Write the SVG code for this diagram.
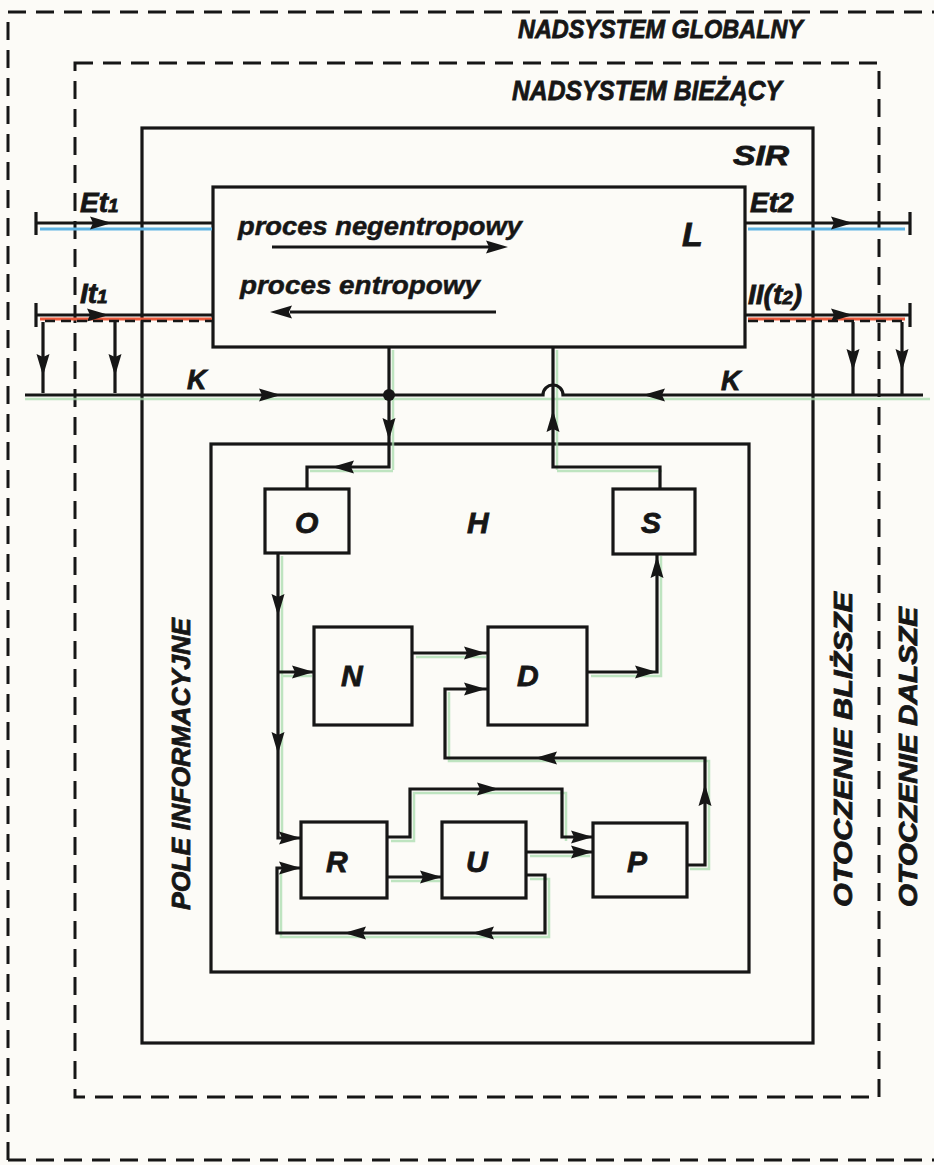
<svg xmlns="http://www.w3.org/2000/svg" width="934" height="1165" viewBox="0 0 934 1165">
<style>
.bg{fill:#fcfbf7}
.box{fill:none;stroke:#161616;stroke-width:3.2}
.dash{fill:none;stroke:#161616;stroke-width:3;stroke-dasharray:18 10}
.ln{fill:none;stroke:#161616;stroke-width:3.2;stroke-linejoin:miter}
.thin{fill:none;stroke:#161616;stroke-width:2.6;stroke-dasharray:10 6}
.gr{fill:none;stroke:#a9dcae;stroke-width:2.5;opacity:.75}
.bl{fill:none;stroke:#5fb3e3;stroke-width:3}
.rd{fill:none;stroke:#ec5a3c;stroke-width:3}
.ah{fill:#161616}
.t{font-family:"Liberation Sans","DejaVu Sans",sans-serif;font-weight:bold;font-style:italic;fill:#161616;stroke:#161616;stroke-width:0.8}
.lc{font-family:"Liberation Sans","DejaVu Sans",sans-serif;font-weight:bold;font-style:italic;fill:#161616;stroke:#161616;stroke-width:0.5;font-size:26px}
</style>
<defs>
<path id="ah" d="M0,0 L-22,-6.5 L-19,0 L-22,6.5 Z"/>
</defs>
<rect class="bg" x="0" y="0" width="934" height="1165"/>

<g id="nadsystem-globalny">
<path class="dash" d="M8,1160 V12 H934"/>
<path class="dash" d="M8,1160 H934"/>
<text class="t" x="518" y="38" font-size="26" textLength="285" lengthAdjust="spacingAndGlyphs">NADSYSTEM GLOBALNY</text>
</g>

<g id="nadsystem-biezacy">
<rect class="dash" x="75" y="63" width="804" height="1034"/>
<text class="t" x="512" y="100" font-size="28" textLength="270" lengthAdjust="spacingAndGlyphs">NADSYSTEM BIEŻĄCY</text>
</g>

<g id="otoczenie-dalsze">
<text class="t" transform="translate(917,907) rotate(-90)" font-size="26" textLength="300" lengthAdjust="spacingAndGlyphs">OTOCZENIE DALSZE</text>
</g>

<g id="SIR">
<rect class="box" x="142" y="128" width="671" height="915"/>
<text class="t" x="733" y="165" font-size="27" textLength="56" lengthAdjust="spacingAndGlyphs">SIR</text>
<text class="t" transform="translate(852,907) rotate(-90)" font-size="26" textLength="315" lengthAdjust="spacingAndGlyphs">OTOCZENIE BLIŻSZE</text>
</g>

<g id="L">
<rect class="box" x="213" y="187" width="532" height="160"/>
<text class="t" x="682" y="246" font-size="34">L</text>
<text class="lc" x="238" y="235" textLength="284" lengthAdjust="spacingAndGlyphs">proces negentropowy</text>
<text class="lc" x="240" y="294" textLength="240" lengthAdjust="spacingAndGlyphs">proces entropowy</text>
<path class="ln" d="M272,247 H490"/>
<use href="#ah" class="ah" transform="translate(508,247)"/>
<path class="ln" d="M290,312 H496"/>
<use href="#ah" class="ah" transform="translate(270,312) rotate(180)"/>
</g>

<g id="H">
<rect class="box" x="211" y="444" width="538" height="528"/>
<text class="t" x="467" y="533" font-size="30">H</text>
<text class="t" transform="translate(190,910) rotate(-90)" font-size="26" textLength="292" lengthAdjust="spacingAndGlyphs">POLE INFORMACYJNE</text>
</g>

<g id="O">
<rect class="box" x="265" y="489" width="84" height="64"/>
<text class="t" x="295" y="533" font-size="30">O</text>
</g>
<g id="S">
<rect class="box" x="613" y="489" width="82" height="65"/>
<text class="t" x="641" y="533" font-size="30">S</text>
</g>
<g id="N">
<rect class="box" x="314" y="627" width="98" height="98"/>
<text class="t" x="341" y="686" font-size="30">N</text>
</g>
<g id="D">
<rect class="box" x="488" y="627" width="99" height="98"/>
<text class="t" x="517" y="686" font-size="30">D</text>
</g>
<g id="R">
<rect class="box" x="301" y="822" width="86" height="76"/>
<text class="t" x="326" y="872" font-size="30">R</text>
</g>
<g id="U">
<rect class="box" x="442" y="822" width="84" height="76"/>
<text class="t" x="466" y="872" font-size="30">U</text>
</g>
<g id="P">
<rect class="box" x="593" y="823" width="94" height="74"/>
<text class="t" x="627" y="872" font-size="30">P</text>
</g>

<g id="connectors">
<path class="bl" d="M40,229 H212"/>
<path class="bl" d="M748,229 H905"/>
<path class="rd" d="M40,319 H212"/>
<path class="rd" d="M748,319 H905"/>
<path class="gr" d="M25,399 H930"/>
<path class="gr" d="M393,350 V470 M557,350 V470 M310,471 H393 M557,471 H662 M282,556 V840 M282,676 H312 M416,657 H486 M591,676 H661 V556 M449,692 V761 H709 V869 H690 M391,841 H414 V793 H566 V841 M530,856 H590 M391,881 H440 M530,879 H549 V937 H281 V872"/>

<path class="ln" d="M36,223 H213 M36,212 V235"/>
<use href="#ah" class="ah" transform="translate(112,223)"/>
<text class="t" x="80" y="212" font-size="28">Et<tspan font-size="19">1</tspan></text>

<path class="ln" d="M36,315 H213 M36,303 V327"/>
<path class="thin" d="M45,321 H213"/>
<use href="#ah" class="ah" transform="translate(109,315)"/>
<text class="t" x="80" y="303" font-size="28">It<tspan font-size="19">1</tspan></text>
<path class="ln" d="M43,322 V393 M115,322 V393"/>
<use href="#ah" class="ah" transform="translate(43,376) rotate(90)"/>
<use href="#ah" class="ah" transform="translate(115,376) rotate(90)"/>

<path class="ln" d="M25,395 H543 A10,10 0 0 1 563,395 H923"/>
<use href="#ah" class="ah" transform="translate(281,395)"/>
<use href="#ah" class="ah" transform="translate(643,395) rotate(180)"/>
<text class="t" x="187" y="389" font-size="27">K</text>
<text class="t" x="721" y="390" font-size="27">K</text>

<path class="ln" d="M745,223 H910 M910,212 V235"/>
<use href="#ah" class="ah" transform="translate(853,223)"/>
<text class="t" x="750" y="212" font-size="28">Et2</text>

<path class="ln" d="M745,315 H910 M910,303 V327"/>
<path class="thin" d="M748,321 H905"/>
<use href="#ah" class="ah" transform="translate(853,315)"/>
<text class="t" x="748" y="304" font-size="28">II(t<tspan font-size="19">2</tspan>)</text>
<path class="ln" d="M853,322 V395 M902,322 V395"/>
<use href="#ah" class="ah" transform="translate(853,371) rotate(90)"/>
<use href="#ah" class="ah" transform="translate(902,371) rotate(90)"/>

<path class="ln" d="M389,347 V467 H307 V489"/>
<circle cx="389" cy="395" r="6" class="ah"/>
<use href="#ah" class="ah" transform="translate(389,440) rotate(90)"/>
<use href="#ah" class="ah" transform="translate(332,467) rotate(180)"/>

<path class="ln" d="M660,489 V467 H553 V347"/>
<use href="#ah" class="ah" transform="translate(553,410) rotate(-90)"/>

<path class="ln" d="M278,553 V838 H301 M278,672 H314"/>
<use href="#ah" class="ah" transform="translate(278,616) rotate(90)"/>
<use href="#ah" class="ah" transform="translate(278,754) rotate(90)"/>
<use href="#ah" class="ah" transform="translate(314,672)"/>
<use href="#ah" class="ah" transform="translate(301,838)"/>

<path class="ln" d="M412,653 H488"/>
<use href="#ah" class="ah" transform="translate(486,653)"/>

<path class="ln" d="M587,672 H657 V554"/>
<use href="#ah" class="ah" transform="translate(657,672)"/>
<use href="#ah" class="ah" transform="translate(657,556) rotate(-90)"/>

<path class="ln" d="M687,865 H705 V758 H445 V689 H488"/>
<use href="#ah" class="ah" transform="translate(705,784) rotate(-90)"/>
<use href="#ah" class="ah" transform="translate(535,758) rotate(180)"/>
<use href="#ah" class="ah" transform="translate(486,689)"/>

<path class="ln" d="M387,837 H410 V789 H562 V837 H593"/>
<use href="#ah" class="ah" transform="translate(499,789)"/>
<use href="#ah" class="ah" transform="translate(593,837)"/>

<path class="ln" d="M526,852 H593"/>
<use href="#ah" class="ah" transform="translate(593,852)"/>

<path class="ln" d="M387,877 H442"/>
<use href="#ah" class="ah" transform="translate(442,877)"/>

<path class="ln" d="M526,875 H545 V933 H277 V868 H301"/>
<use href="#ah" class="ah" transform="translate(472,933) rotate(180)"/>
<use href="#ah" class="ah" transform="translate(344,933) rotate(180)"/>
<use href="#ah" class="ah" transform="translate(301,868)"/>
</g>
</svg>
